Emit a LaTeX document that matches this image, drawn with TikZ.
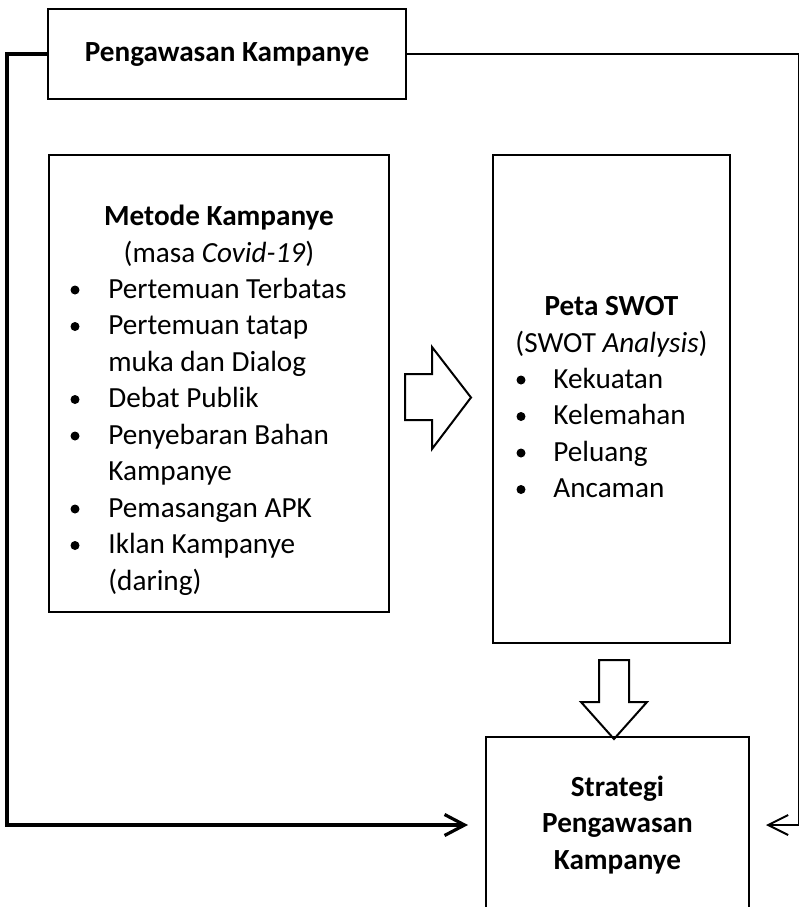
\documentclass[tikz,border=0pt]{standalone}
\usepackage{fontspec}
\setmainfont{Carlito}
\usetikzlibrary{arrows.meta}

\begin{document}
\begin{tikzpicture}[x=0.5pt,y=-0.5pt,
    font=\fontsize{14.6}{18.25}\selectfont,
    box/.style={draw,line width=1pt,inner sep=0pt},
    txt/.style={inner sep=0pt,anchor=base},
    item/.style={inner sep=0pt,anchor=base west},
    blk/.style={draw,line width=1pt,line join=miter},
    lconn/.style={line width=1.6pt,-{Straight Barb[length=10pt,width=10.5pt]}},
    rconn/.style={line width=0.7pt,-{Straight Barb[length=10pt,width=10pt,line width=1pt]}}]
  \clip (0,0) rectangle (800,907);
  % boxes
  \node[box,minimum width=179pt,minimum height=45pt,font=\fontsize{14.6}{18.25}\selectfont\bfseries] (pk) at (227,54) {Pengawasan Kampanye};
  \node[box,minimum width=170pt,minimum height=228.5pt] (metode) at (219,383.5) {};
  \node[box,minimum width=118.5pt,minimum height=244pt] (swot) at (611.5,399) {};
  \node[box,minimum width=131.5pt,minimum height=88pt,align=center,font=\fontsize{14.6}{18.25}\selectfont\bfseries] (strat) at (617.5,825) {Strategi\\Pengawasan\\Kampanye};
  % metode kampanye
  \node[txt,font=\fontsize{14.6}{18.25}\selectfont\bfseries] (mtitle) at (219,225) {Metode Kampanye};
  \node[txt] (msub) at (219,262) {(masa \textit{Covid-19})};
  \foreach \b/\t [count=\i from 0] in {1/Pertemuan Terbatas,1/Pertemuan tatap,0/muka dan Dialog,1/Debat Publik,1/Penyebaran Bahan,0/Kampanye,1/Pemasangan APK,1/Iklan Kampanye,0/(daring)} {
    \node[item] (m\i) at (108,298+36.5*\i) {\t};
    \ifnum\b=1 \fill (75,290+36.5*\i) circle (4.5); \fi
  }
  % peta swot
  \node[txt,font=\fontsize{14.6}{18.25}\selectfont\bfseries] (stitle) at (611.5,315) {Peta SWOT};
  \node[txt] (ssub) at (611.5,352) {(SWOT \textit{Analysis})};
  \foreach \t [count=\i from 0] in {Kekuatan,Kelemahan,Peluang,Ancaman} {
    \node[item] (s\i) at (553,388+36.5*\i) {\t};
    \fill (521,380+36.5*\i) circle (4.5);
  }
  % block arrows
  \draw[blk] (405,374) -- (432,374) -- (432,347) -- (471,397.5) -- (432,449) -- (432,420) -- (405,420) -- cycle;
  \draw[blk] (599,660) -- (629,660) -- (629,702) -- (647,702) -- (614,739) -- (581,702) -- (599,702) -- cycle;
  % connectors
  \draw[lconn] (pk.west) -- ++(-40,0) |- ([xshift=-8.5pt]strat.west);
  \draw[rconn] (pk.east) -- ++(391.5,0) |- ([xshift=8pt]strat.east);
\end{tikzpicture}
\end{document}
